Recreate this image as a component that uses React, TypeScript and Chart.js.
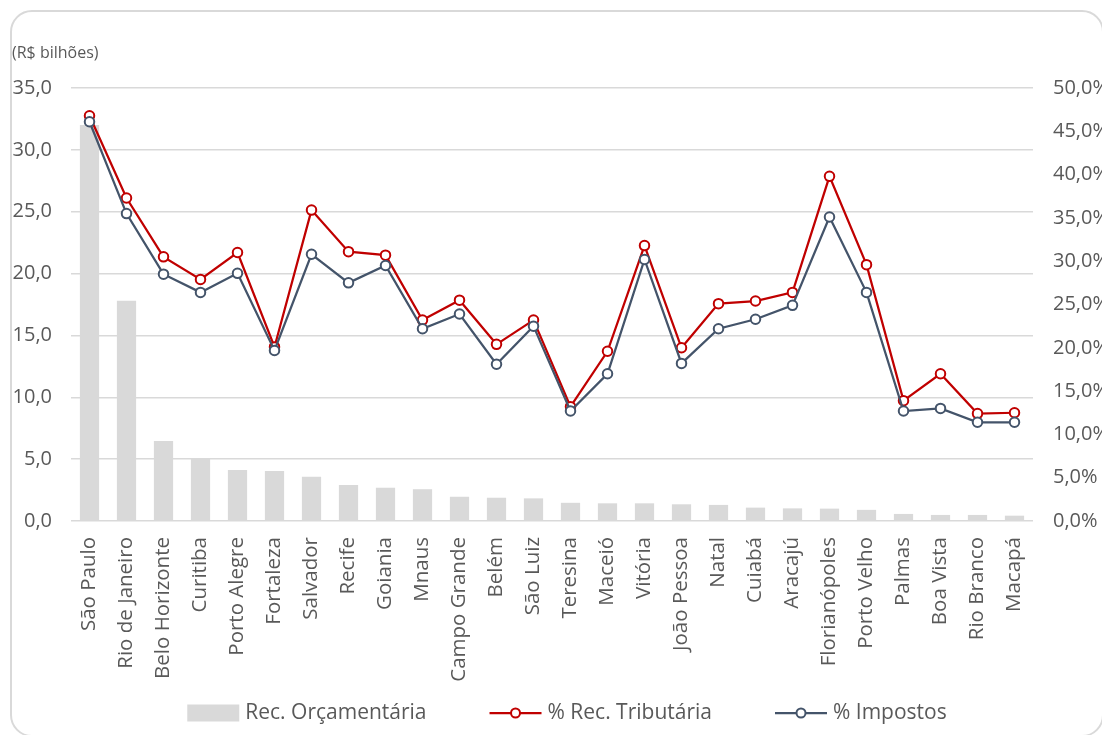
import React, { useEffect, useRef } from 'react';
import { Chart, registerables } from 'chart.js';

Chart.register(...registerables);

const categories = [
  'São Paulo', 'Rio de Janeiro', 'Belo Horizonte', 'Curitiba', 'Porto Alegre', 'Fortaleza',
  'Salvador', 'Recife', 'Goiania', 'Mnaus', 'Campo Grande', 'Belém', 'São Luiz', 'Teresina',
  'Maceió', 'Vitória', 'João Pessoa', 'Natal', 'Cuiabá', 'Aracajú', 'Florianópoles',
  'Porto Velho', 'Palmas', 'Boa Vista', 'Rio Branco', 'Macapá',
];

const recOrcamentaria = [
  32.0, 17.8, 6.47, 5.05, 4.12, 4.04, 3.58, 2.91, 2.69, 2.57, 1.96, 1.88, 1.83, 1.47,
  1.43, 1.43, 1.35, 1.3, 1.08, 1.02, 1.0, 0.9, 0.57, 0.49, 0.49, 0.43,
];

const pctRecTributaria = [
  46.8, 37.3, 30.5, 27.9, 31.0, 20.1, 35.9, 31.1, 30.7, 23.2, 25.5, 20.4, 23.2, 13.2,
  19.6, 31.8, 20.0, 25.1, 25.4, 26.4, 39.8, 29.6, 13.9, 17.0, 12.4, 12.5,
];

const pctImpostos = [
  46.1, 35.5, 28.5, 26.4, 28.6, 19.7, 30.8, 27.5, 29.5, 22.2, 23.9, 18.1, 22.5, 12.7,
  17.0, 30.2, 18.2, 22.2, 23.3, 24.9, 35.1, 26.4, 12.7, 13.0, 11.4, 11.4,
];

const seriesNames = ['Rec. Orçamentária', '% Rec. Tributária', '% Impostos'];
const unitLabel = '(R$ bilhões)';

const FONT = "'Open Sans', sans-serif";
const TEXT = '#595959';
const GRID = '#D9D9D9';
const RED = '#C00000';
const BLUE = '#44546A';

const fmt = (v: number) => v.toFixed(1).replace('.', ',');

export default function App() {
  const canvasRef = useRef<HTMLCanvasElement | null>(null);

  useEffect(() => {
    if (!canvasRef.current) return;

    const unitPlugin = {
      id: 'unitLabel',
      afterDraw(chart: any) {
        const ctx = chart.ctx;
        ctx.save();
        ctx.font = `16px ${FONT}`;
        ctx.fillStyle = TEXT;
        ctx.textAlign = 'left';
        ctx.textBaseline = 'middle';
        ctx.fillText(unitLabel, 0, 41);
        ctx.restore();
      },
    };

    const legendPlugin = {
      id: 'customLegend',
      afterDraw(chart: any) {
        const ctx = chart.ctx;
        ctx.save();
        ctx.font = `21px ${FONT}`;
        const iconW = 52;
        const textGap = 6;
        const itemGap = 63;
        const widths = seriesNames.map((n) => ctx.measureText(n).width);
        const total =
          widths.reduce((a, w) => a + iconW + textGap + w, 0) + itemGap * (seriesNames.length - 1);
        const centerX = 555;
        const y = 701;
        let x = centerX - total / 2;
        seriesNames.forEach((name, i) => {
          if (i === 0) {
            ctx.fillStyle = GRID;
            ctx.fillRect(x, y - 8.5, iconW, 17);
          } else {
            const color = i === 1 ? RED : BLUE;
            ctx.strokeStyle = color;
            ctx.lineWidth = 2.25;
            ctx.beginPath();
            ctx.moveTo(x, y);
            ctx.lineTo(x + iconW, y);
            ctx.stroke();
            ctx.beginPath();
            ctx.arc(x + iconW / 2, y, 4.5, 0, Math.PI * 2);
            ctx.fillStyle = '#ffffff';
            ctx.fill();
            ctx.lineWidth = 2;
            ctx.stroke();
          }
          ctx.fillStyle = TEXT;
          ctx.textAlign = 'left';
          ctx.textBaseline = 'middle';
          ctx.fillText(name, x + iconW + textGap, y);
          x += iconW + textGap + widths[i] + itemGap;
        });
        ctx.restore();
      },
    };

    const chart = new Chart(canvasRef.current, {
      type: 'bar',
      data: {
        labels: categories,
        datasets: [
          {
            type: 'bar',
            label: seriesNames[0],
            data: recOrcamentaria,
            backgroundColor: GRID,
            yAxisID: 'y',
            order: 3,
            barPercentage: 0.52,
            categoryPercentage: 1,
          },
          {
            type: 'line',
            label: seriesNames[1],
            data: pctRecTributaria,
            borderColor: RED,
            borderWidth: 2.25,
            pointRadius: 4.75,
            pointBorderWidth: 2,
            pointBackgroundColor: '#ffffff',
            pointBorderColor: RED,
            yAxisID: 'y1',
            order: 2,
            tension: 0,
          },
          {
            type: 'line',
            label: seriesNames[2],
            data: pctImpostos,
            borderColor: BLUE,
            borderWidth: 2.25,
            pointRadius: 4.75,
            pointBorderWidth: 2,
            pointBackgroundColor: '#ffffff',
            pointBorderColor: BLUE,
            yAxisID: 'y1',
            order: 1,
            tension: 0,
          },
        ] as any,
      },
      options: {
        animation: false,
        responsive: true,
        maintainAspectRatio: false,
        layout: { padding: { left: 0, right: 0, top: 76, bottom: 0 } },
        plugins: {
          tooltip: { enabled: false },
          title: { display: false },
          legend: { display: false },
        },
        scales: {
          x: {
            offset: true,
            grid: { display: false },
            border: { display: false },
            ticks: {
              minRotation: 90,
              maxRotation: 90,
              autoSkip: false,
              padding: 8,
              color: TEXT,
              font: { family: FONT, size: 20.5 },
            },
            afterFit: (scale: any) => {
              scale.height = 214;
            },
          },
          y: {
            position: 'left',
            min: 0,
            max: 35,
            grid: { color: GRID, lineWidth: 1.5, drawTicks: false },
            border: { display: false },
            ticks: {
              stepSize: 5,
              padding: 19,
              color: TEXT,
              font: { family: FONT, size: 20 },
              callback: (v: any) => fmt(Number(v)),
            },
            afterFit: (scale: any) => {
              scale.width = 59;
            },
          },
          y1: {
            position: 'right',
            min: 0,
            max: 50,
            grid: { display: false, drawTicks: false },
            border: { display: false },
            ticks: {
              stepSize: 5,
              padding: 20,
              color: TEXT,
              font: { family: FONT, size: 20 },
              callback: (v: any) => fmt(Number(v)) + '%',
            },
            afterFit: (scale: any) => {
              scale.width = 69;
            },
          },
        },
      },
      plugins: [unitPlugin, legendPlugin],
    } as any);

    return () => chart.destroy();
  }, []);

  return (
    <div
      style={{
        position: 'fixed',
        left: 10,
        top: 10,
        width: 1094,
        height: 727,
        boxSizing: 'border-box',
        border: `2px solid ${GRID}`,
        borderRadius: 22,
        background: '#ffffff',
      }}
    >
      <div style={{ position: 'relative', width: 1090, height: 723 }}>
        <canvas ref={canvasRef} />
      </div>
    </div>
  );
}
